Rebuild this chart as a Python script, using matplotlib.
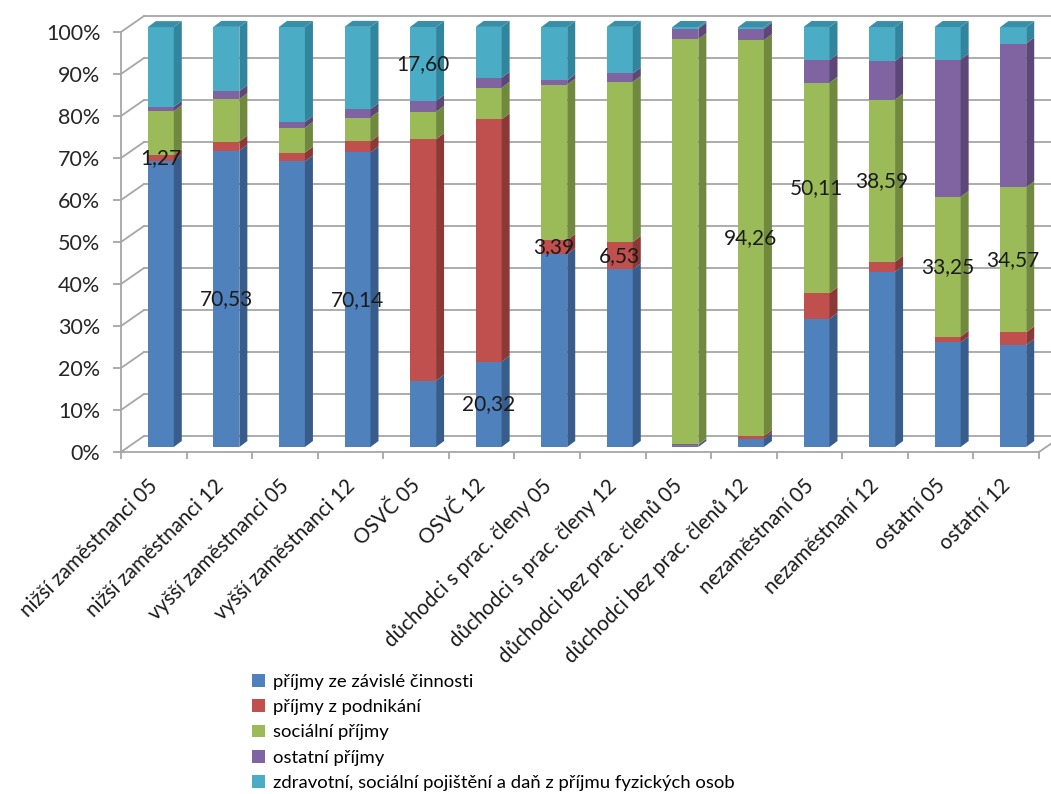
import matplotlib
matplotlib.use("Agg")
import matplotlib.pyplot as plt
from matplotlib.patches import Polygon, Patch
from matplotlib.transforms import ScaledTranslation
import numpy as np

plt.rcParams['font.family'] = ['Lato', 'DejaVu Sans']

categories = ["nižší zaměstnanci 05", "nižší zaměstnanci 12", "vyšší zaměstnanci 05",
              "vyšší zaměstnanci 12", "OSVČ 05", "OSVČ 12", "důchodci s prac. členy 05",
              "důchodci s prac. členy 12", "důchodci bez prac. členů 05",
              "důchodci bez prac. členů 12", "nezaměstnaní 05", "nezaměstnaní 12",
              "ostatní 05", "ostatní 12"]

series_names = ["příjmy ze závislé činnosti", "příjmy z podnikání", "sociální příjmy",
                "ostatní příjmy", "zdravotní, sociální pojištění a daň z příjmu fyzických osob"]

zavisla = [68.2, 70.53, 68.0, 70.14, 15.8, 20.32, 45.9, 42.3, 0.5, 2.0, 30.5, 41.7, 24.9, 24.3]
podnikani = [1.27, 2.2, 2.1, 2.6, 57.5, 57.7, 3.39, 6.53, 0.1, 0.6, 6.1, 2.4, 1.4, 3.0]
socialni = [10.5, 10.1, 5.9, 5.7, 6.5, 7.5, 37.0, 38.1, 96.5, 94.26, 50.11, 38.59, 33.25, 34.57]
ostatni = [1.0, 1.9, 1.4, 2.0, 2.6, 2.4, 1.0, 2.0, 2.5, 2.7, 5.4, 9.2, 32.7, 34.2]
pojisteni = [19.0, 15.3, 22.6, 19.6, 17.6, 12.1, 12.7, 11.1, 0.4, 0.4, 7.9, 8.1, 7.75, 3.9]

# which series carries the single data label of each column (None = no label)
label_series = [1, 0, None, 0, 4, 0, 1, 1, None, 2, 2, 2, 2, 2]

y_ticks = [0, 10, 20, 30, 40, 50, 60, 70, 80, 90, 100]

colors = ["#4F81BD", "#C0504D", "#9BBB59", "#8064A2", "#4BACC6"]
side_colors = ["#385D8A", "#8C3836", "#71893F", "#5C4776", "#31859C"]
top_color = "#3A8FA8"
grid_color = "#A6A6A6"

series = [zavisla, podnikani, socialni, ostatni, pojisteni]

W, H = 1051, 794
fig = plt.figure(figsize=(W / 100, H / 100), dpi=100)
L, R, T, B = 121, 1039, 32, 452
ax = fig.add_axes([L / W, 1 - B / H, (R - L) / W, (B - T) / H])
n = len(categories)
ax.set_xlim(-0.5, n - 0.5)
ax.set_ylim(0, 100)

ppx = (R - L) / n
ppy = (B - T) / 100.0
wx, wy = 23 / ppx, 16 / ppy       # wall depth
bw = 26 / ppx                    # bar width
dx, dy = 8 / ppx, 6 / ppy        # bar depth

# walls and floor
for t in y_ticks:
    ax.plot([-0.5, -0.5 + wx], [t, t + wy], color=grid_color, lw=1.3, clip_on=False, zorder=1)
    ax.plot([-0.5 + wx, n - 0.5 + wx], [t + wy, t + wy], color=grid_color, lw=1.3,
            clip_on=False, zorder=1)
ax.plot([n - 0.5, n - 0.5 + wx], [0, wy], color=grid_color, lw=1.3, clip_on=False, zorder=1)

for s in ["top", "right"]:
    ax.spines[s].set_visible(False)
for s in ["left", "bottom"]:
    ax.spines[s].set_color(grid_color)
    ax.spines[s].set_linewidth(1.3)
    ax.spines[s].set_zorder(1)

ax.set_yticks(y_ticks)
ax.set_yticklabels([f"{t}%" for t in y_ticks])
ax.tick_params(axis='y', direction='out', length=5.8, width=1.3, color=grid_color,
               labelsize=15.5, labelcolor='#262626', pad=9)

x = np.arange(n)
ax.set_xticks(np.arange(n + 1) - 0.5)
ax.set_xticklabels([""] * (n + 1))
ax.set_xticks(x, minor=True)
ax.set_xticklabels(categories, minor=True, rotation=45, ha='right', va='top',
                   rotation_mode='anchor', fontsize=14.8, color='#1a1a1a')
ax.tick_params(axis='x', which='major', direction='out', length=5, width=1.3, color=grid_color)
ax.tick_params(axis='x', which='minor', length=0, pad=17)
lab_shift = ScaledTranslation(-6 / 100, 0, fig.dpi_scale_trans)
for lab in ax.get_xticklabels(minor=True):
    lab.set_transform(lab.get_transform() + lab_shift)

# bars (front plane shifted into the depth of the plot)
shift = ax.transData + ScaledTranslation(7 / 100, 5 / 100, fig.dpi_scale_trans)
bottoms = np.zeros(n)
for k, vals in enumerate(series):
    vals = np.array(vals, dtype=float)
    bars = ax.bar(x, vals, width=bw, bottom=bottoms, color=colors[k], linewidth=0,
                  clip_on=False, zorder=3)
    for p in bars:
        p.set_transform(shift)
    for i in range(n):
        xr = x[i] + bw / 2
        y0, y1 = bottoms[i], bottoms[i] + vals[i]
        ax.add_patch(Polygon([(xr, y0), (xr + dx, y0 + dy), (xr + dx, y1 + dy), (xr, y1)],
                             closed=True, facecolor=side_colors[k], edgecolor='none',
                             transform=shift, clip_on=False, zorder=3))
    bottoms = bottoms + vals

for i in range(n):
    xl, xr = x[i] - bw / 2, x[i] + bw / 2
    yt = bottoms[i]
    ax.add_patch(Polygon([(xl, yt), (xl + dx, yt + dy), (xr + dx, yt + dy), (xr, yt)],
                         closed=True, facecolor=top_color, edgecolor='none',
                         transform=shift, clip_on=False, zorder=3))

# data labels
for i in range(n):
    k = label_series[i]
    if k is None:
        continue
    base = sum(series[j][i] for j in range(k))
    v = series[k][i]
    ax.text(x[i], base + v / 2, f"{v:.2f}".replace(".", ","), transform=shift,
            ha='center', va='center', fontsize=15, color='#1a1a1a', zorder=5)

handles = [Patch(facecolor=c, edgecolor='none') for c in colors]
fig.legend(handles, series_names, loc='upper left', bbox_to_anchor=(252 / W, 1 - 674 / H),
           frameon=False, fontsize=13.3, handlelength=0.7, handleheight=0.7,
           handletextpad=0.45, labelspacing=0.5, borderaxespad=0, borderpad=0)

fig.savefig("out.png", dpi=100, facecolor='white')
